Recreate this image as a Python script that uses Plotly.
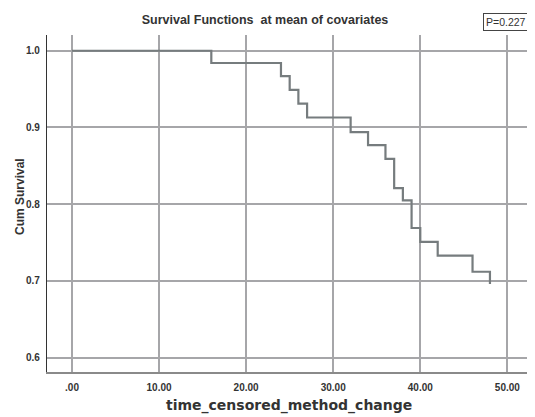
import plotly.graph_objects as go

# Kaplan-Meier style survival step data
times = [0, 16, 24, 25, 26, 27, 32, 34, 36, 37, 38, 39, 40, 42, 46, 48]
surv = [1.0, 0.984, 0.967, 0.949, 0.931, 0.913, 0.894, 0.877, 0.859, 0.821,
        0.805, 0.769, 0.751, 0.733, 0.712, 0.696]

x_tickvals = [0, 10, 20, 30, 40, 50]
x_ticktext = [".00", "10.00", "20.00", "30.00", "40.00", "50.00"]
y_tickvals = [0.6, 0.7, 0.8, 0.9, 1.0]
y_ticktext = ["0.6", "0.7", "0.8", "0.9", "1.0"]

# the page body adds an 8px margin, so the figure is sized to fit the window
OFF = 8
W, H = 535 - OFF, 417 - OFF
L, R, T, B = 47 - OFF, 535 - 530, 35 - OFF, 417 - 372
pw = W - L - R
ph = H - T - B


def px_x(x):  # reference pixel -> paper x
    return (x - OFF - L) / pw


def px_y(y):  # reference pixel -> paper y
    return (H - B - (y - OFF)) / ph


fig = go.Figure()
fig.add_trace(go.Scatter(
    x=times, y=surv, mode="lines", line_shape="hv",
    line=dict(color="#767c7e", width=2.2), showlegend=False, hoverinfo="skip"))

font_family = "Liberation Sans, Arial, sans-serif"

fig.update_layout(
    width=W, height=H,
    margin=dict(l=L, r=R, t=T, b=B, autoexpand=False),
    paper_bgcolor="white", plot_bgcolor="white",
    font=dict(family=font_family, color="#333333"),
    title=dict(text="<b>Survival Functions  at mean of covariates</b>",
               x=(265 - OFF) / W, xanchor="center", y=1 - (20 - OFF) / H, yanchor="middle",
               font=dict(size=12.5, family=font_family, color="#333333")),
    xaxis=dict(range=[-2.87, 52.6], tickvals=x_tickvals, ticktext=x_ticktext,
               showgrid=True, gridcolor="#a6a6a9", gridwidth=1.6, automargin=False,
               zeroline=False, showline=True, linecolor="#8a8a8a", linewidth=1.5,
               ticks="", tickfont=dict(size=10, family=font_family, color="#333333", weight="bold"),
               ticklabelstandoff=5),
    yaxis=dict(range=[0.5814, 1.0205], tickvals=y_tickvals, ticktext=y_ticktext,
               showgrid=True, gridcolor="#a6a6a9", gridwidth=1.6, automargin=False,
               zeroline=False, showline=True, linecolor="#333333", linewidth=1.2,
               ticks="", tickfont=dict(size=10, family=font_family, color="#333333", weight="bold"),
               ticklabelstandoff=4),
    annotations=[
        dict(text="P=0.227", xref="paper", yref="paper",
             x=px_x(529), y=px_y(22), xanchor="right", yanchor="middle",
             showarrow=False, font=dict(size=10.5, family=font_family, color="#333333"),
             bordercolor="#444444", borderwidth=1, borderpad=2, bgcolor="white"),
        dict(text="<b>time_censored_method_change</b>", xref="paper", yref="paper",
             x=px_x(289), y=px_y(405), xanchor="center", yanchor="middle",
             showarrow=False, font=dict(size=14, family="DejaVu Sans, sans-serif", color="#333333")),
        dict(text="<b>Cum Survival</b>", xref="paper", yref="paper",
             x=px_x(20), y=px_y(197), xanchor="center", yanchor="middle",
             textangle=-90, showarrow=False,
             font=dict(size=12, family=font_family, color="#333333")),
    ],
)

fig.write_html("out.html")
